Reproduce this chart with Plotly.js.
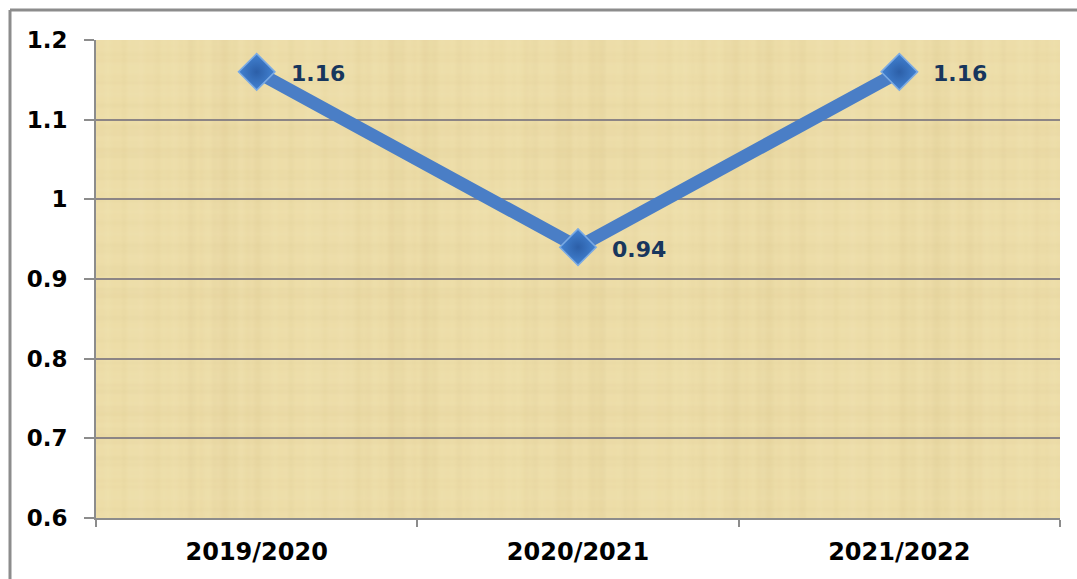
<!DOCTYPE html>
<html>
<head>
<meta charset="utf-8">
<script src="https://cdn.plot.ly/plotly-3.0.1.min.js"></script>
<style>
html,body{margin:0;padding:0;background:#fff;}
#chart{width:1077px;height:579px;}
</style>
</head>
<body>
<div id="chart"></div>
<script>
// ---- data ----
const categories = ["2019/2020", "2020/2021", "2021/2022"];
const values = [1.16, 0.94, 1.16];
const valueLabels = ["1.16", "0.94", "1.16"];
const yTicks = [0.6, 0.7, 0.8, 0.9, 1, 1.1, 1.2];
const yTickLabels = ["0.6", "0.7", "0.8", "0.9", "1", "1.1", "1.2"];

// ---- papyrus-like background texture (decorative) ----
function makeTexture() {
  const w = 482, h = 239;
  const c = document.createElement("canvas");
  c.width = w; c.height = h;
  const g = c.getContext("2d");
  g.fillStyle = "rgb(237,221,168)";
  g.fillRect(0, 0, w, h);
  for (let x = 0; x < w; x++) {
    const v = Math.sin(x * 0.37) * 0.5 + Math.sin(x * 1.13 + 1.7) * 0.3 + Math.sin(x * 0.071) * 0.4;
    const a = Math.abs(v) * 0.08;
    g.fillStyle = v > 0 ? "rgba(255,248,215," + a + ")" : "rgba(190,162,100," + a + ")";
    g.fillRect(x, 0, 1, h);
  }
  for (let y = 0; y < h; y++) {
    const v = Math.sin(y * 0.53 + 0.4) * 0.5 + Math.sin(y * 1.71) * 0.3 + Math.sin(y * 0.09) * 0.3;
    const a = Math.abs(v) * 0.06;
    g.fillStyle = v > 0 ? "rgba(255,248,215," + a + ")" : "rgba(190,162,100," + a + ")";
    g.fillRect(0, y, w, 1);
  }
  return c.toDataURL("image/png");
}

const W = 1077, H = 579;
const L = 96, R = 17, T = 40, B = 61;
const pw = W - L - R, ph = H - T - B;
const px = v => (v - L) / pw;
const py = v => (H - B - v) / ph;
const FONT = "'DejaVu Sans', sans-serif";

const trace = {
  type: "scatter",
  mode: "lines+markers",
  x: categories,
  y: values,
  line: {color: "#4A7EC6", width: 13},
  marker: {
    symbol: "diamond",
    size: 28,
    color: "#4282D2",
    line: {color: "#7AAAE4", width: 1.5},
    gradient: {type: "radial", color: "#2C5FA8"}
  },
  cliponaxis: false,
  hoverinfo: "skip"
};

const labelAnnotations = categories.map((c, i) => ({
  x: c, y: values[i], xref: "x", yref: "y",
  text: valueLabels[i],
  showarrow: false,
  xanchor: "left", yanchor: "middle",
  xshift: 32, yshift: -2,
  font: {family: FONT, size: 22, color: "#17365D", weight: "bold"}
}));

const layout = {
  width: W, height: H,
  margin: {l: L, r: R, t: T, b: B, pad: 0},
  paper_bgcolor: "#ffffff",
  plot_bgcolor: "rgb(237,221,168)",
  showlegend: false,
  font: {family: FONT, color: "#000"},
  xaxis: {
    type: "category",
    range: [-0.5, 2.5],
    showgrid: false,
    showline: true,
    linecolor: "#8C8C8C",
    linewidth: 2,
    ticks: "outside",
    tickson: "boundaries",
    ticklen: 7,
    tickwidth: 2,
    tickcolor: "#8C8C8C",
    tickfont: {family: FONT, size: 24, color: "#000", weight: "bold"},
    ticklabelstandoff: 11,
    fixedrange: true
  },
  yaxis: {
    range: [0.6, 1.2],
    tickvals: yTicks,
    ticktext: yTickLabels,
    showgrid: true,
    gridcolor: "#8C8585",
    gridwidth: 2,
    showline: true,
    linecolor: "#8C8C8C",
    linewidth: 2,
    ticks: "outside",
    ticklen: 10,
    tickwidth: 2,
    tickcolor: "#8C8C8C",
    tickfont: {family: FONT, size: 23, color: "#000", weight: "bold"},
    ticklabelstandoff: 12,
    zeroline: false,
    fixedrange: true
  },
  annotations: labelAnnotations,
  images: [{
    source: makeTexture(),
    xref: "paper", yref: "paper",
    x: 0, y: 1, sizex: 1, sizey: 1,
    xanchor: "left", yanchor: "top",
    sizing: "stretch",
    layer: "below"
  }],
  shapes: [
    {type: "line", xref: "paper", yref: "paper",
     x0: px(10), x1: px(1080), y0: py(10), y1: py(10),
     line: {color: "#8C8C8C", width: 3}},
    {type: "line", xref: "paper", yref: "paper",
     x0: px(10), x1: px(10), y0: py(10), y1: py(585),
     line: {color: "#8C8C8C", width: 3}}
  ]
};

Plotly.newPlot("chart", [trace], layout, {displayModeBar: false, staticPlot: true});
</script>
</body>
</html>
